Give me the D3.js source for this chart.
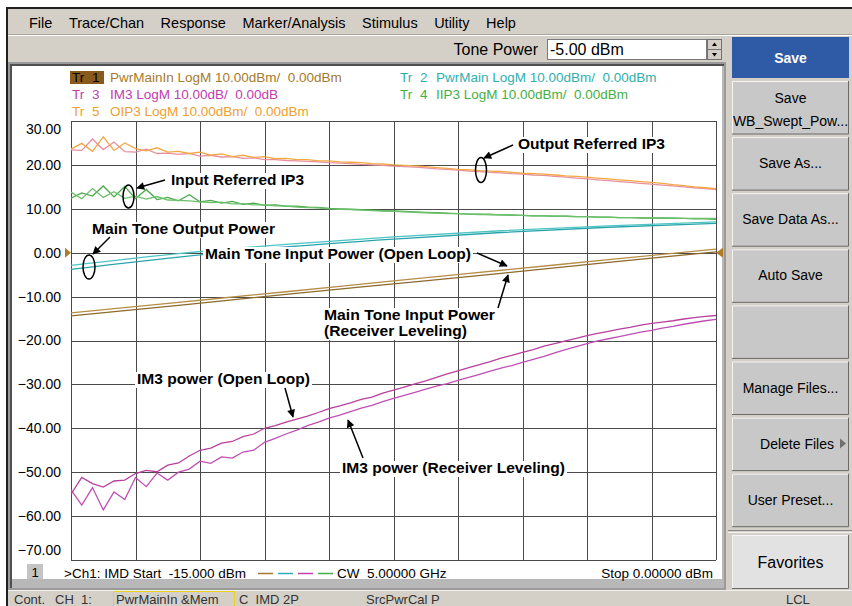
<!DOCTYPE html>
<html><head><meta charset="utf-8">
<script src="https://cdn.jsdelivr.net/npm/d3@7"></script>
<style>
html,body{margin:0;padding:0;background:#fff;}
svg{display:block;}
text{white-space:pre;}
</style></head><body>
<svg id="c" width="852" height="606"></svg>
<script>
// ---------------- DATA ----------------
const menuItems = ["File","Trace/Chan","Response","Marker/Analysis","Stimulus","Utility","Help"];
const buttonLabels = [["Save","WB_Swept_Pow..."],["Save As..."],["Save Data As..."],["Auto Save"],[""],["Manage Files..."],["Delete Files"],["User Preset..."]];
const yTicks = [30,20,10,0,-10,-20,-30,-40,-50,-60,-70];
const xGridTicks = [-15,-13.5,-12,-10.5,-9,-7.5,-6,-4.5,-3,-1.5,0];

// stimulus power (dBm), 61 sweep points
const sweep = [-15,-14.75,-14.5,-14.25,-14,-13.75,-13.5,-13.25,-13,-12.75,
 -12.5,-12.25,-12,-11.75,-11.5,-11.25,-11,-10.75,-10.5,-10.25,
 -10,-9.75,-9.5,-9.25,-9,-8.75,-8.5,-8.25,-8,-7.75,
 -7.5,-7.25,-7,-6.75,-6.5,-6.25,-6,-5.75,-5.5,-5.25,
 -5,-4.75,-4.5,-4.25,-4,-3.75,-3.5,-3.25,-3,-2.75,
 -2.5,-2.25,-2,-1.75,-1.5,-1.25,-1,-0.75,-0.5,-0.25,0];
const smoothSweep = [-15,-12.5,-10,-7.5,-5,-2.5,0];

// Tr1 PwrMainIn (open loop / receiver leveling)
const pwrMainInOpen = [-13.7,-11.3,-8.9,-6.4,-4.0,-1.6,0.8];
const pwrMainInLevel = [-14.4,-12.0,-9.5,-7.1,-4.7,-2.2,0.2];
// Tr2 PwrMain
const pwrMainOpen = [-2.9,-0.2,1.9,3.6,5.0,6.1,7.0];
const pwrMainLevel = [-3.8,-1.0,1.3,3.1,4.6,5.8,6.7];
// Tr3 IM3
const im3Open = [-55.0,-51.2,-52.6,-53.4,-52.0,-51.8,-50.3,-49.6,-49.9,-48.4,
 -47.9,-46.3,-45.0,-44.5,-43.4,-43.0,-41.9,-41.3,-40.0,-39.4,
 -38.6,-37.9,-37.2,-36.4,-35.5,-34.9,-34.2,-33.4,-32.9,-32.0,
 -31.3,-30.6,-29.9,-29.2,-28.4,-27.6,-26.9,-26.2,-25.5,-24.8,
 -24.0,-23.4,-22.7,-22.1,-21.3,-20.7,-20.1,-19.5,-18.9,-18.4,
 -17.9,-17.4,-17.0,-16.5,-16.1,-15.8,-15.5,-15.1,-14.8,-14.5,-14.3];
const im3Level = [-54.0,-57.5,-53.5,-58.6,-54.5,-56.2,-51.2,-53.3,-50.2,-51.8,
 -50.0,-49.3,-47.5,-48.0,-46.5,-46.8,-45.4,-45.0,-43.2,-42.3,
 -41.3,-40.4,-39.4,-38.6,-37.7,-37.0,-36.2,-35.4,-34.8,-33.9,
 -33.2,-32.5,-31.8,-31.1,-30.4,-29.8,-29.1,-28.4,-27.7,-27.0,
 -26.3,-25.7,-25.0,-24.3,-23.6,-22.8,-22.1,-21.4,-20.7,-20.1,
 -19.6,-19.1,-18.6,-18.1,-17.7,-17.2,-16.8,-16.3,-15.9,-15.5,-15.2];
// Tr4 IIP3
const iip3Open = [13.8,12.3,14.6,12.6,13.9,12.4,12.9,12.2,12.8,12.0,
 11.9,11.8,11.6,11.4,11.5,11.1,11.2,10.9,10.9,10.7,
 10.6,10.4,10.3,10.2,10.0,9.9,9.8,9.7,9.6,9.5,
 9.4,9.3,9.2,9.1,9.0,8.9,8.9,8.8,8.7,8.7,
 8.6,8.5,8.5,8.4,8.4,8.3,8.3,8.2,8.2,8.1,
 8.1,8.0,8.0,8.0,7.9,7.9,7.9,7.8,7.8,7.8,7.8];
const iip3Level = [12.4,13.6,12.9,15.2,12.7,15.1,12.3,14.4,12.1,12.6,
 11.8,13.2,11.6,11.9,11.3,11.7,11.0,11.3,10.8,10.9,
 10.6,10.6,10.4,10.3,10.1,10.0,9.9,9.8,9.7,9.6,
 9.5,9.4,9.3,9.2,9.1,9.0,8.9,8.8,8.8,8.7,
 8.6,8.6,8.5,8.4,8.4,8.3,8.3,8.2,8.2,8.1,
 8.1,8.0,8.0,7.9,7.9,7.9,7.8,7.8,7.7,7.7,7.6];
// Tr5 OIP3
const oip3Open = [23.6,24.9,23.1,26.4,23.3,25.0,23.7,23.2,23.9,22.9,
 23.1,22.6,22.9,22.2,22.5,21.9,22.2,21.7,21.9,21.4,
 21.5,21.2,21.2,20.9,20.9,20.7,20.6,20.5,20.3,20.2,
 20.0,19.9,19.8,19.6,19.4,19.2,19.0,18.9,18.7,18.6,
 18.5,18.3,18.1,18.0,17.9,17.7,17.5,17.4,17.2,17.0,
 16.8,16.6,16.4,16.2,16.0,15.8,15.5,15.3,15.0,14.8,14.6];
const oip3Level = [23.4,23.3,25.9,23.5,25.2,23.0,22.9,23.6,22.6,22.7,
 22.4,22.6,22.0,22.2,21.8,21.9,21.5,21.6,21.2,21.2,
 21.0,20.9,20.8,20.7,20.5,20.4,20.3,20.1,20.0,19.9,
 19.7,19.6,19.5,19.3,19.1,19.0,18.8,18.6,18.5,18.3,
 18.2,18.0,17.9,17.7,17.6,17.4,17.2,17.0,16.8,16.6,
 16.4,16.2,16.0,15.8,15.6,15.4,15.2,15.0,14.8,14.6,14.4];

const legendRows = [
 {tr:"1", text:"PwrMainIn LogM 10.00dBm/  0.00dBm"},
 {tr:"2", text:"PwrMain LogM 10.00dBm/  0.00dBm"},
 {tr:"3", text:"IM3 LogM 10.00dB/  0.00dB"},
 {tr:"4", text:"IIP3 LogM 10.00dBm/  0.00dBm"},
 {tr:"5", text:"OIP3 LogM 10.00dBm/  0.00dBm"}
];
const annotationTexts = ["Output Referred IP3","Input Referred IP3","Main Tone Output Power",
 "Main Tone Input Power (Open Loop)","Main Tone Input Power","(Receiver Leveling)",
 "IM3 power (Open Loop)","IM3 power (Receiver Leveling)"];

// ---------------- LAYOUT / STYLE ----------------
const UI = "'Liberation Sans', Arial, sans-serif";
const trColors = {"1":"#a67a2c","2":"#2fb0b0","3":"#c040b0","4":"#44b044","5":"#f0a030"};
const svg = d3.select("#c");
const W = 852, H = 606;
const plot = {l:71, r:716, t:121, b:560};

svg.append("rect").attr("width",W).attr("height",H).attr("fill","#d4d0c8");
svg.append("rect").attr("width",W).attr("height",8).attr("fill","#ffffff");
svg.append("rect").attr("y",7).attr("width",W).attr("height",2).attr("fill","#202020");
svg.append("rect").attr("x",0).attr("y",0).attr("width",8).attr("height",H).attr("fill","#ffffff");
svg.append("rect").attr("x",6).attr("y",7).attr("width",2).attr("height",H).attr("fill","#202020");
svg.append("line").attr("x1",8).attr("x2",W).attr("y1",35.5).attr("y2",35.5).attr("stroke","#ffffff");
svg.append("line").attr("x1",8).attr("x2",W).attr("y1",34.5).attr("y2",34.5).attr("stroke","#a8a49c");

// menu
let mx = 29;
menuItems.forEach(m=>{
  const t = svg.append("text").attr("x",mx).attr("y",28).attr("font-family",UI).attr("font-size",14.5).attr("fill","#000").text(m);
  mx += t.node().getComputedTextLength() + 16.5;
});

// tone power
svg.append("text").attr("x",538).attr("y",55).attr("text-anchor","end").attr("font-family",UI).attr("font-size",16).text("Tone Power");
svg.append("rect").attr("x",547.5).attr("y",39.5).attr("width",159).attr("height",20).attr("fill","#fff").attr("stroke","#7a7a7a");
svg.append("text").attr("x",550).attr("y",55).attr("font-family",UI).attr("font-size",16).text("-5.00 dBm");
[39.5,49.5].forEach(yy=>{
  svg.append("rect").attr("x",707.5).attr("y",yy).attr("width",14).attr("height",10).attr("fill","#d4d0c8").attr("stroke","#707070");
});
svg.append("path").attr("d","M714.5,42.5 l-2.5,3.5 h5 z").attr("fill","#000");
svg.append("path").attr("d","M714.5,56.5 l-2.5,-3.5 h5 z").attr("fill","#000");

// chart panel frame
svg.append("rect").attr("x",8).attr("y",62).attr("width",718).attr("height",528).attr("fill","#9a9a9a");
svg.append("rect").attr("x",10).attr("y",64).attr("width",714).attr("height",524).attr("fill","#505050");
svg.append("rect").attr("x",12).attr("y",66).attr("width",710).attr("height",513).attr("fill","#ffffff");
svg.append("rect").attr("x",12).attr("y",579).attr("width",710).attr("height",9).attr("fill","#b8b8b8");
svg.append("rect").attr("x",722).attr("y",66).attr("width",2).attr("height",522).attr("fill","#b8b8b8");

// right buttons
svg.append("rect").attr("x",728).attr("y",36).attr("width",124).attr("height",H-36-16).attr("fill","#d4d0c8");
svg.append("rect").attr("x",732).attr("y",37).attr("width",117).attr("height",41).attr("fill","#2f5aa6");
svg.append("text").attr("x",790.5).attr("y",63).attr("text-anchor","middle").attr("font-family",UI).attr("font-weight","bold").attr("font-size",14).attr("fill","#fff").text("Save");
function button(x,y,w,h,fill){
  const g = svg.append("g");
  g.append("rect").attr("x",x).attr("y",y).attr("width",w).attr("height",h).attr("fill",fill);
  g.append("path").attr("d",`M${x+0.5},${y+h} V${y+0.5} H${x+w}`).attr("stroke","#f4f4f4").attr("fill","none");
  g.append("path").attr("d",`M${x+w-0.5},${y} V${y+h-0.5} H${x}`).attr("stroke","#6a6a6a").attr("fill","none");
  return g;
}
buttonLabels.forEach((lab,i)=>{
  const y0 = 81 + i*56.1, h = 53.5;
  button(732,y0,117,h,"#c8c8c8");
  if(lab.length===2){
    svg.append("text").attr("x",790.5).attr("y",y0+22).attr("text-anchor","middle").attr("font-family",UI).attr("font-size",14).text(lab[0]);
    svg.append("text").attr("x",790.5).attr("y",y0+45).attr("text-anchor","middle").attr("font-family",UI).attr("font-size",14).text(lab[1]);
  } else if(lab[0]==="Delete Files"){
    svg.append("text").attr("x",797).attr("y",y0+31).attr("text-anchor","middle").attr("font-family",UI).attr("font-size",14).text(lab[0]);
    svg.append("path").attr("d",`M840,${y0+21} l6,5 l-6,5 z`).attr("fill","#707070");
  } else {
    svg.append("text").attr("x",790.5).attr("y",y0+31).attr("text-anchor","middle").attr("font-family",UI).attr("font-size",14).text(lab[0]);
  }
});
svg.append("line").attr("x1",728).attr("x2",852).attr("y1",530.5).attr("y2",530.5).attr("stroke","#8a8a8a");
svg.append("line").attr("x1",728).attr("x2",852).attr("y1",532.5).attr("y2",532.5).attr("stroke","#f4f4f4");
button(732,535,117,54,"#e2e2e2");
svg.append("text").attr("x",790.5).attr("y",568).attr("text-anchor","middle").attr("font-family",UI).attr("font-size",16).text("Favorites");

// status bar
svg.append("rect").attr("x",8).attr("y",590).attr("width",W-8).attr("height",16).attr("fill","#d4d0c8");
svg.append("line").attr("x1",8).attr("x2",W).attr("y1",590.5).attr("y2",590.5).attr("stroke","#f0f0f0");
svg.append("rect").attr("x",113.5).attr("y",591.5).attr("width",121).attr("height",16).attr("fill","none").attr("stroke","#e8d21a");
[["Cont.",14],["CH  1:",55],["PwrMainIn &Mem",116],["C  IMD 2P",239],["SrcPwrCal P",366],["LCL",786]].forEach(([t,x])=>{
  svg.append("text").attr("x",x).attr("y",603.5).attr("font-family",UI).attr("font-size",13).attr("fill","#333").text(t);
});

// ---------------- CHART ----------------
const x = d3.scaleLinear().domain([-15,0]).range([plot.l,plot.r]);
const y = d3.scaleLinear().domain([-70,30]).range([plot.b,plot.t]);

const grid = svg.append("g");
grid.selectAll("line.v").data(xGridTicks).join("line")
  .attr("x1",d=>Math.round(x(d))+0.5).attr("x2",d=>Math.round(x(d))+0.5)
  .attr("y1",plot.t).attr("y2",plot.b).attr("stroke","#4a4a4a").attr("stroke-width",1);
grid.selectAll("line.h").data(yTicks).join("line")
  .attr("y1",d=>Math.round(y(d))+0.5).attr("y2",d=>Math.round(y(d))+0.5)
  .attr("x1",plot.l).attr("x2",plot.r).attr("stroke","#4a4a4a").attr("stroke-width",1);

// y axis labels
const yAxis = d3.axisLeft(y).tickValues(yTicks).tickFormat(d3.format(".2f")).tickSize(0).tickPadding(10);
const ya = svg.append("g").attr("transform",`translate(${plot.l},0)`).call(yAxis);
ya.select(".domain").remove();
ya.selectAll("text").attr("font-family",UI).attr("font-size",14).attr("fill","#000")
  .attr("transform",d=> d===30 ? "translate(0,8)" : d===-70 ? "translate(0,-10)" : null);

// reference markers
svg.append("path").attr("d",`M65,${y(0)-5} l6,5 l-6,5 z`).attr("fill","#b07a28");
svg.append("path").attr("d",`M723,${y(0)-5} l-7,5 l7,5 z`).attr("fill","#b07a28");

// traces
svg.append("clipPath").attr("id","pc").append("rect").attr("x",plot.l).attr("y",plot.t).attr("width",plot.r-plot.l).attr("height",plot.b-plot.t);
const tg = svg.append("g").attr("clip-path","url(#pc)");
const series = [
  {xs:smoothSweep, ys:pwrMainInLevel, c:"#8c6a2c"},
  {xs:smoothSweep, ys:pwrMainInOpen, c:"#b58d45"},
  {xs:smoothSweep, ys:pwrMainLevel, c:"#2aa4ac"},
  {xs:smoothSweep, ys:pwrMainOpen, c:"#4cc4c4"},
  {xs:sweep, ys:iip3Level, c:"#4aaa4a"},
  {xs:sweep, ys:iip3Open, c:"#6cc06c"},
  {xs:sweep, ys:oip3Level, c:"#e890a0"},
  {xs:sweep, ys:oip3Open, c:"#f2a844"},
  {xs:sweep, ys:im3Level, c:"#bf4fb4"},
  {xs:sweep, ys:im3Open, c:"#b8409e"}
];
const lineLin = d3.line().x(d=>x(d[0])).y(d=>y(d[1])).curve(d3.curveLinear);
const lineSmooth = d3.line().x(d=>x(d[0])).y(d=>y(d[1])).curve(d3.curveMonotoneX);
series.forEach(s=>{
  const pts = s.xs.map((v,i)=>[v,s.ys[i]]);
  tg.append("path").datum(pts)
    .attr("d", s.xs.length>10 ? lineLin : lineSmooth)
    .attr("fill","none").attr("stroke",s.c).attr("stroke-width",1.3);
});

// legend
const leg = [
  {row:legendRows[0], lx:70, by:82},
  {row:legendRows[1], lx:398, by:82},
  {row:legendRows[2], lx:70, by:99},
  {row:legendRows[3], lx:398, by:99},
  {row:legendRows[4], lx:70, by:116}
];
leg.forEach(l=>{
  const c = trColors[l.row.tr];
  if(l.row.tr==="1"){
    svg.append("rect").attr("x",l.lx).attr("y",l.by-11).attr("width",34).attr("height",13).attr("fill","#8a5a1c");
  }
  const fc = l.row.tr==="1" ? "#000" : c;
  svg.append("text").attr("x",l.lx+2).attr("y",l.by).attr("font-family",UI).attr("font-size",13.5).attr("fill",fc).text("Tr");
  svg.append("text").attr("x",l.lx+22).attr("y",l.by).attr("font-family",UI).attr("font-size",13.5).attr("fill",fc).text(l.row.tr);
  svg.append("text").attr("x",l.lx+(l.lx<100?40:38)).attr("y",l.by).attr("font-family",UI).attr("font-size",13.5).attr("fill",c).text(l.row.text);
});

// bottom info line
svg.append("rect").attr("x",27).attr("y",564).attr("width",16).attr("height",15).attr("fill","#c4c4c4");
svg.append("text").attr("x",35).attr("y",577).attr("text-anchor","middle").attr("font-family",UI).attr("font-size",13).text("1");
svg.append("text").attr("x",64).attr("y",578).attr("font-family",UI).attr("font-size",13.5).text(">Ch1: IMD Start  -15.000 dBm");
["#a67a2c","#2fb0b0","#c040b0","#44b044"].forEach((c,i)=>{
  svg.append("line").attr("x1",258+i*20).attr("x2",273+i*20).attr("y1",573.5).attr("y2",573.5).attr("stroke",c).attr("stroke-width",1.5);
});
svg.append("text").attr("x",337).attr("y",578).attr("font-family",UI).attr("font-size",13.5).text("CW  5.00000 GHz");
svg.append("text").attr("x",713).attr("y",578).attr("text-anchor","end").attr("font-family",UI).attr("font-size",13.5).text("Stop 0.00000 dBm");

// annotations
const defs = svg.append("defs");
defs.append("marker").attr("id","ah").attr("viewBox","0 0 10 10").attr("refX",9).attr("refY",5)
  .attr("markerWidth",10).attr("markerHeight",8).attr("markerUnits","userSpaceOnUse").attr("orient","auto")
  .append("path").attr("d","M0,0 L10,5 L0,10 z").attr("fill","#000");
const annPos = [[518,149,147],[171,185,133],[92,234,183],[205,259,266],[324,320,171],[324,336,143],[137,384,173],[342,473,223]];
const ag = svg.append("g");
annotationTexts.forEach((t,i)=>{
  const [ax,ay,aw] = annPos[i];
  ag.append("rect").attr("x",ax-2).attr("y",ay-12).attr("width",aw+4).attr("height",16).attr("fill","#fff");
});
annotationTexts.forEach((t,i)=>{
  const [ax,ay,aw] = annPos[i];
  ag.append("text").attr("x",ax).attr("y",ay).attr("font-family",UI).attr("font-weight","bold").attr("font-size",15)
    .attr("textLength",aw).attr("lengthAdjust","spacingAndGlyphs").attr("fill","#000").text(t);
});
const arrows = [[513,145,484,158],[165,180,137,188],[110,237,93,254],[477,253,507,266],[498,308,508,275],[285,388,293,417],[363,458,348,420]];
arrows.forEach(a=>{
  ag.append("line").attr("x1",a[0]).attr("y1",a[1]).attr("x2",a[2]).attr("y2",a[3]).attr("stroke","#000").attr("stroke-width",1.5).attr("marker-end","url(#ah)");
});
[[481,170,5.5,12.5],[128.5,196.5,5.5,11.5],[89,267,6,12]].forEach(e=>{
  ag.append("ellipse").attr("cx",e[0]).attr("cy",e[1]).attr("rx",e[2]).attr("ry",e[3]).attr("fill","none").attr("stroke","#000").attr("stroke-width",1.5);
});
</script>
</body></html>
